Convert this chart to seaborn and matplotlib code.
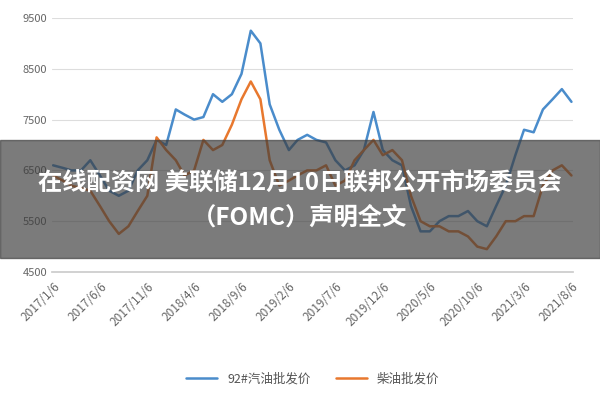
import numpy as np
import pandas as pd
import matplotlib
matplotlib.use("Agg")
import matplotlib.pyplot as plt
import seaborn as sns
from matplotlib.patches import Rectangle

sns.set_theme(style="white")
plt.rcParams['font.family'] = ['Noto Sans CJK SC', 'DejaVu Sans']

dates = pd.date_range("2017-01-01", "2021-08-01", freq="MS") + pd.Timedelta(days=5)
gasoline = [6600, 6550, 6500, 6500, 6700, 6400, 6100, 6000, 6100, 6500, 6700, 7100,
            7000, 7700, 7600, 7500, 7550, 8000, 7850, 8000, 8400, 9250, 9000, 7800,
            7300, 6900, 7100, 7200, 7100, 7050, 6700, 6500, 6600, 6900, 7650, 6900,
            6700, 6600, 5800, 5300, 5300, 5500, 5600, 5600, 5700, 5500, 5400, 5800,
            6200, 6800, 7300, 7250, 7700, 7900, 8100, 7850]
diesel = [6400, 6300, 6200, 6150, 6100, 5800, 5500, 5250, 5400, 5700, 6000, 7150,
          6900, 6700, 6400, 6500, 7100, 6900, 7000, 7400, 7900, 8250, 7900, 6700,
          6200, 6300, 6400, 6500, 6500, 6600, 6200, 6300, 6700, 6900, 7100, 6800,
          6900, 6700, 6000, 5500, 5400, 5400, 5300, 5300, 5200, 5000, 4950, 5200,
          5500, 5500, 5600, 5600, 6200, 6500, 6600, 6400]
tick_dates = pd.date_range("2017-01-01", "2021-08-01", freq="5MS") + pd.Timedelta(days=5)
tick_labels = [f"{d.year}/{d.month}/{d.day}" for d in tick_dates]

df = pd.DataFrame({"date": list(dates) * 2,
                   "price": gasoline + diesel,
                   "kind": ["92#汽油批发价"] * len(gasoline) + ["柴油批发价"] * len(diesel)})

fig = plt.figure(figsize=(6, 4), dpi=100)
ax = fig.add_axes([0.087, 0.32, 0.868, 0.635])
sns.lineplot(data=df, x="date", y="price", hue="kind", ax=ax,
             palette=["#4a8ccb", "#e8782e"], linewidth=1.8)
ax.set_ylim(4500, 9500)
ax.set_yticks([4500, 5500, 6500, 7500, 8500, 9500])
ax.set_xlim(tick_dates[0] - pd.Timedelta(days=3), dates[-1] + pd.Timedelta(days=5))
ax.set_xticks(tick_dates)
ax.set_xticklabels(tick_labels, rotation=45, ha="right", rotation_mode="anchor")
ax.tick_params(axis="x", labelsize=8.5, colors="#666666", length=4, color="#cccccc", pad=2)
ax.tick_params(axis="y", labelsize=8, colors="#666666", length=0)
ax.grid(axis="y", color="#dddddd", linewidth=0.8)
for s in ["top", "right", "left"]:
    ax.spines[s].set_visible(False)
ax.spines["bottom"].set_color("#cccccc")
ax.set_xlabel("")
ax.set_ylabel("")
ax.legend(loc="center", bbox_to_anchor=(0.5, -0.42), ncol=2, frameon=False,
          fontsize=9, labelcolor="#555555", handlelength=2.5)

fig.patches.append(Rectangle((0, 0.355), 1, 0.295, transform=fig.transFigure,
                             color="#3c3c3c", alpha=0.68, zorder=10))
fig.text(0.5, 0.543, "在线配资网 美联储12月10日联邦公开市场委员会", ha="center", va="center",
         color="white", fontsize=17.5, fontweight="bold", zorder=11)
fig.text(0.5, 0.455, "（FOMC）声明全文", ha="center", va="center",
         color="white", fontsize=17.5, fontweight="bold", zorder=11)

fig.savefig("out.png", dpi=100)
